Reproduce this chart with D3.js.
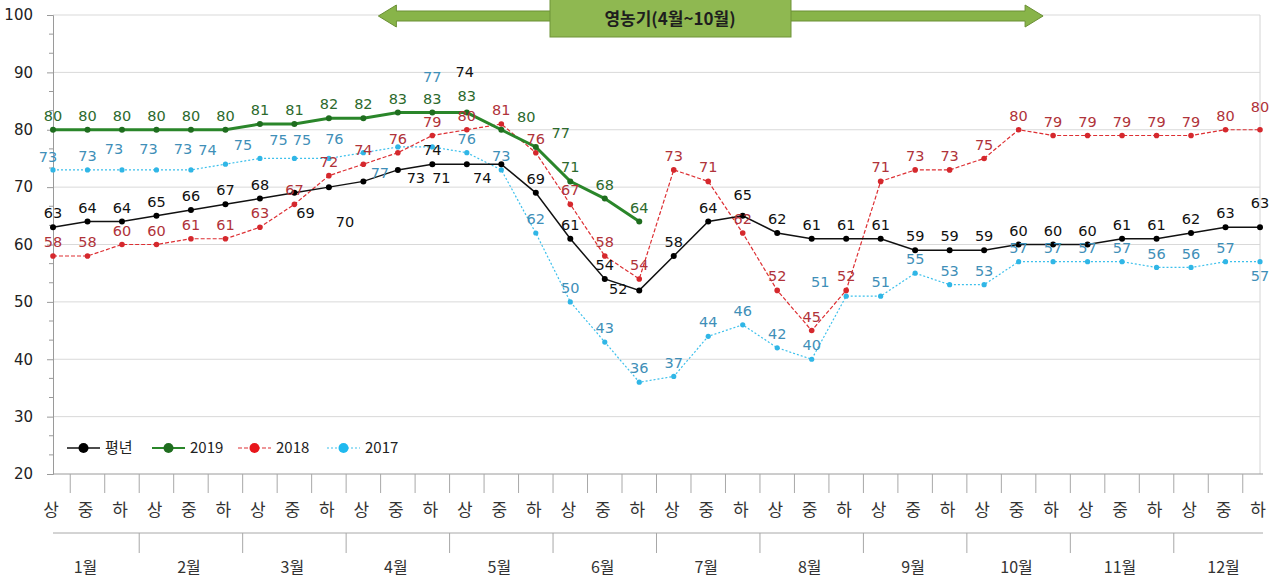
<!DOCTYPE html>
<html>
<head>
<meta charset="utf-8">
<script src="https://d3js.org/d3.v7.min.js"></script>
<style>
  body { margin: 0; background: #fff; }
  svg { display: block; }
</style>
</head>
<body>
<svg id="chart" width="1284" height="579"></svg>
<script>
// categories
var months = ["1월","2월","3월","4월","5월","6월","7월","8월","9월","10월","11월","12월"];
var periods = ["상","중","하"];
var yTicks = [20,30,40,50,60,70,80,90,100];

// series values (상/중/하 of each month)
var normalYear = [63,64,64,65,66,67,68,69,70,71,73,74,74,74,69,61,54,52,58,64,65,62,61,61,61,59,59,59,60,60,60,61,61,62,63,63];
var y2019 = [80,80,80,80,80,80,81,81,82,82,83,83,83,80,77,71,68,64];
var y2018 = [58,58,60,60,61,61,63,67,72,74,76,79,80,81,76,67,58,54,73,71,62,52,45,52,71,73,73,75,80,79,79,79,79,79,80,80];
var y2017 = [73,73,73,73,73,74,75,75,75,76,77,77,76,73,62,50,43,36,37,44,46,42,40,51,51,55,53,53,57,57,57,57,56,56,57,57];

var seasonTitle = "영농기(4월~10월)";

var categories = [];
months.forEach(function(m, mi){
  periods.forEach(function(p){ categories.push({month: mi, label: p}); });
});

var series = [
  {key:"y2017", name:"2017", values:y2017, color:"#3cc0ec", marker:"#30b6e6", label:"#3f8fb8", width:1.2, dash:"2,2", r:2.6},
  {key:"y2018", name:"2018", values:y2018, color:"#dd2f33", marker:"#d5282d", label:"#b0333a", width:1.2, dash:"4,2", r:2.8},
  {key:"avg",   name:"평년", values:normalYear, color:"#111", marker:"#000", label:"#111", width:1.5, dash:null, r:3},
  {key:"y2019", name:"2019", values:y2019, color:"#2a862a", marker:"#1f6d1f", label:"#2d6a2d", width:3, dash:null, r:3}
];

// hand nudges for labels that sit off the default spot (dx, dy of text centre from point)
var nudge = {
  "avg:7":[11,20], "avg:8":[16,35], "avg:9":[78,-3], "avg:10":[18,8], "avg:12":[-2,-92],
  "avg:13":[-19,14], "avg:17":[-21,-1], "avg:20":[0,-21], "avg:35":[0,-24],
  "y2019:12":[0,-17], "y2019:13":[25,-13], "y2019:14":[25,-14],
  "y2018:35":[0,-23],
  "y2017:0":[-5,-13], "y2017:2":[-8,-21], "y2017:3":[-8,-21], "y2017:4":[-8,-21],
  "y2017:5":[-18,-14], "y2017:6":[-17,-14], "y2017:7":[-16,-19], "y2017:8":[-27,-19],
  "y2017:9":[-29,-14], "y2017:10":[-18,26], "y2017:11":[0,-70], "y2017:23":[-26,-14],
  "y2017:35":[0,14]
};

var svg = d3.select("#chart");
var plotLeft = 53, plotRight = 1260, plotTop = 15, plotBottom = 474;

var x = d3.scalePoint().domain(d3.range(categories.length)).range([plotLeft, plotRight]);
var y = d3.scaleLinear().domain([20, 100]).range([plotBottom, plotTop]);
var step = x.step();

// gridlines
svg.append("g").selectAll("line")
  .data(yTicks.slice(1))
  .enter().append("line")
  .attr("x1", plotLeft).attr("x2", plotRight)
  .attr("y1", function(d){ return y(d); }).attr("y2", function(d){ return y(d); })
  .attr("stroke", "#d9d9d9").attr("stroke-width", 1);

// right border
svg.append("line")
  .attr("x1", plotRight).attr("x2", plotRight).attr("y1", plotTop).attr("y2", plotBottom)
  .attr("stroke", "#d4d4d4");

// y axis
var yAxis = svg.append("g").attr("transform", "translate(" + plotLeft + ",0)")
  .call(d3.axisLeft(y).tickValues(yTicks).tickSize(6).tickPadding(4));
yAxis.select(".domain").attr("stroke", "#9a9a9a");
yAxis.selectAll(".tick line").attr("stroke", "#9a9a9a");
yAxis.selectAll("text").attr("font-family", "DejaVu Sans, sans-serif").attr("font-size", "15px").attr("fill", "#222").attr("x", -20);
// minor ticks
var minor = [];
yTicks.slice(0, -1).forEach(function(t){ minor.push(t + 10/3, t + 20/3); });
svg.append("g").selectAll("line").data(minor).enter().append("line")
  .attr("x1", plotLeft - 4).attr("x2", plotLeft)
  .attr("y1", function(d){ return y(d); }).attr("y2", function(d){ return y(d); })
  .attr("stroke", "#9a9a9a");

// x axis (period row)
var xg = svg.append("g");
xg.append("line").attr("x1", plotLeft).attr("x2", plotRight + 3).attr("y1", plotBottom).attr("y2", plotBottom)
  .attr("stroke", "#9a9a9a");
xg.selectAll("line.tk").data(d3.range(categories.length - 1)).enter().append("line")
  .attr("class", "tk")
  .attr("x1", function(i){ return x(i) + step / 2; }).attr("x2", function(i){ return x(i) + step / 2; })
  .attr("y1", plotBottom).attr("y2", plotBottom + 19)
  .attr("stroke", "#a8a8a8");
xg.selectAll("text").data(categories).enter().append("text")
  .attr("x", function(d, i){ return x(i) - 2; })
  .attr("y", 516)
  .attr("text-anchor", "middle")
  .attr("font-family", "Noto Sans CJK KR, sans-serif")
  .attr("font-size", "17px")
  .attr("fill", "#333")
  .text(function(d){ return d.label; });

// month row
var mg = svg.append("g");
mg.append("line").attr("x1", plotLeft).attr("x2", plotRight + 3).attr("y1", 533).attr("y2", 533)
  .attr("stroke", "#a8a8a8");
mg.selectAll("line.mt").data(d3.range(1, months.length)).enter().append("line")
  .attr("class", "mt")
  .attr("x1", function(m){ return x(m * 3) - step / 2; }).attr("x2", function(m){ return x(m * 3) - step / 2; })
  .attr("y1", 533).attr("y2", 553)
  .attr("stroke", "#a8a8a8");
mg.selectAll("text").data(months).enter().append("text")
  .attr("x", function(d, m){ return x(m * 3 + 1) - 2; })
  .attr("y", 573)
  .attr("text-anchor", "middle")
  .attr("font-family", "Noto Sans CJK KR, sans-serif")
  .attr("font-size", "16px")
  .attr("fill", "#333")
  .text(function(d){ return d; });

// lines + markers
var line = d3.line().x(function(d, i){ return x(i); }).y(function(d){ return y(d); });
series.forEach(function(s){
  var g = svg.append("g");
  g.append("path").datum(s.values)
    .attr("d", line).attr("fill", "none")
    .attr("stroke", s.color).attr("stroke-width", s.width)
    .attr("stroke-dasharray", s.dash);
  g.selectAll("circle").data(s.values).enter().append("circle")
    .attr("cx", function(d, i){ return x(i); }).attr("cy", function(d){ return y(d); })
    .attr("r", s.r).attr("fill", s.marker);
});

// data labels
series.forEach(function(s){
  svg.append("g").selectAll("text").data(s.values).enter().append("text")
    .attr("x", function(d, i){ var n = nudge[s.key + ":" + i]; return x(i) + (n ? n[0] : 0); })
    .attr("y", function(d, i){ var n = nudge[s.key + ":" + i]; return y(d) + (n ? n[1] : -14); })
    .attr("dy", "0.35em")
    .attr("text-anchor", "middle")
    .attr("font-family", "DejaVu Sans, sans-serif")
    .attr("font-size", "14.5px")
    .attr("fill", s.label)
    .text(function(d){ return d; });
});

// legend
var legendOrder = [series[2], series[3], series[1], series[0]];
var lx = [67, 152, 238, 327];
var lg = svg.append("g").attr("transform", "translate(0,448)");
legendOrder.forEach(function(s, i){
  var g = lg.append("g").attr("transform", "translate(" + lx[i] + ",0)");
  g.append("line").attr("x1", 0).attr("x2", 33).attr("y1", 0).attr("y2", 0)
    .attr("stroke", s.color).attr("stroke-width", Math.min(s.width, 1.8)).attr("stroke-dasharray", s.dash);
  g.append("circle").attr("cx", 16.5).attr("cy", 0).attr("r", 5).attr("fill", s.key == "y2018" ? "#e8161b" : s.key == "y2017" ? "#1fb9ef" : s.marker);
  g.append("text").attr("x", 38).attr("y", 0).attr("dy", "0.35em")
    .attr("font-family", "Noto Sans CJK KR, DejaVu Sans, sans-serif")
    .attr("font-size", "15px").attr("fill", "#222")
    .text(s.name);
});

// season banner: double arrow over 4월 ~ 10월
var ax0 = x(9) + 15, ax1 = x(29) - 10, ay = 16;
var arrow = [
  [ax0, ay], [ax0 + 18, ay - 11], [ax0 + 18, ay - 5], [ax1 - 18, ay - 5], [ax1 - 18, ay - 11],
  [ax1, ay], [ax1 - 18, ay + 11], [ax1 - 18, ay + 5], [ax0 + 18, ay + 5], [ax0 + 18, ay + 11]
];
svg.append("polygon")
  .attr("points", arrow.map(function(p){ return p.join(","); }).join(" "))
  .attr("fill", "#88b449").attr("stroke", "#6a8f34").attr("stroke-width", 1);
svg.append("rect")
  .attr("x", 550).attr("y", -3).attr("width", 241).attr("height", 40)
  .attr("fill", "#8fb851").attr("stroke", "#6f9339").attr("stroke-width", 1);
svg.append("text")
  .attr("x", 670).attr("y", 19).attr("dy", "0.35em")
  .attr("text-anchor", "middle")
  .attr("font-family", "Noto Sans CJK KR, sans-serif")
  .attr("font-weight", "bold")
  .attr("font-size", "17px")
  .attr("fill", "#1e1e1e")
  .text(seasonTitle);
</script>
</body>
</html>
